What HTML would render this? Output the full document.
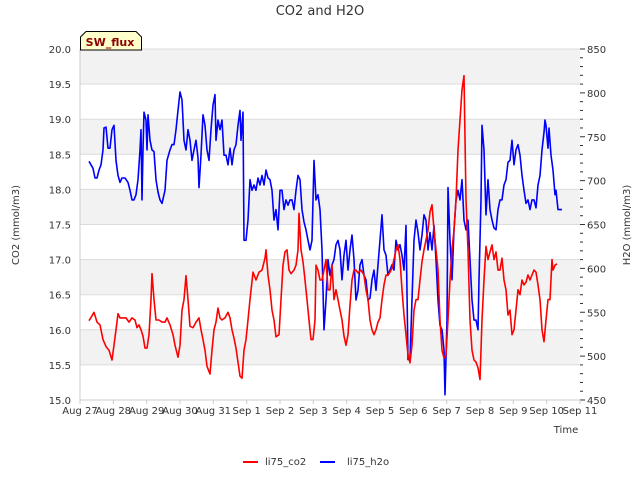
<!DOCTYPE html>
<html><head><meta charset="utf-8"><style>
body{margin:0;background:#fff;font-family:"Liberation Sans",sans-serif}
svg text{font-family:"DejaVu Sans","Liberation Sans",sans-serif}
</style></head><body>
<svg id="chart" width="640" height="480" xmlns="http://www.w3.org/2000/svg">
<text x="320" y="15" text-anchor="middle" font-size="13" fill="#333">CO2 and H2O</text>
<g id="bands"></g>
<g id="axes"></g>
<g id="series"></g>
<g>
<path d="M80.5,50 L80.5,37 L86,31.5 L136,31.5 L141.5,37 L141.5,50 Z" fill="#ffffcc" stroke="#000" stroke-width="1"/>
<text x="110" y="46" text-anchor="middle" font-size="11" font-weight="bold" fill="#8b0000">SW_flux</text>
</g>
<text x="566" y="433" text-anchor="middle" font-size="10" fill="#333">Time</text>
<text transform="translate(19,225) rotate(-90)" text-anchor="middle" font-size="10" fill="#333">CO2 (mmol/m3)</text>
<text transform="translate(630,225) rotate(-90)" text-anchor="middle" font-size="10" fill="#333">H2O (mmol/m3)</text>
<g><line x1="243" y1="462" x2="258" y2="462" stroke="#f00" stroke-width="2"/><text x="265" y="465" font-size="10" fill="#333">li75_co2</text></g>
<g><line x1="320" y1="462" x2="335" y2="462" stroke="#00f" stroke-width="2"/><text x="347" y="465" font-size="10" fill="#333">li75_h2o</text></g>
</svg>
<script>
const xTickLabels = ["Aug 27","Aug 28","Aug 29","Aug 30","Aug 31","Sep 1","Sep 2","Sep 3","Sep 4","Sep 5","Sep 6","Sep 7","Sep 8","Sep 9","Sep 10","Sep 11"];
const leftTicks = [15.0,15.5,16.0,16.5,17.0,17.5,18.0,18.5,19.0,19.5,20.0];
const rightTicks = [450,500,550,600,650,700,750,800,850];
const co2Times = [.27,.36,.42,.51,.60,.69,.78,.87,.96,1.02,1.08,1.14,1.20,1.29,1.38,1.47,1.56,1.65,1.71,1.77,1.83,1.89,1.95,2.01,2.07,2.13,2.16,2.22,2.28,2.37,2.46,2.55,2.61,2.70,2.79,2.85,2.94,3.00,3.06,3.12,3.18,3.24,3.30,3.39,3.48,3.57,3.63,3.69,3.75,3.81,3.90,3.96,4.02,4.08,4.14,4.20,4.26,4.35,4.44,4.50,4.56,4.62,4.68,4.74,4.80,4.86,4.92,4.98,5.04,5.10,5.19,5.28,5.37,5.46,5.55,5.58,5.64,5.70,5.76,5.82,5.88,5.97,6.03,6.09,6.15,6.21,6.27,6.33,6.42,6.48,6.54,6.57,6.63,6.69,6.75,6.81,6.87,6.93,6.99,7.05,7.08,7.14,7.20,7.26,7.32,7.38,7.44,7.50,7.56,7.62,7.68,7.74,7.80,7.86,7.92,7.98,8.04,8.10,8.16,8.22,8.28,8.34,8.43,8.52,8.58,8.64,8.70,8.76,8.82,8.88,8.94,9.00,9.06,9.12,9.18,9.24,9.30,9.36,9.42,9.48,9.54,9.60,9.66,9.72,9.78,9.84,9.90,9.96,10.02,10.08,10.14,10.20,10.26,10.32,10.38,10.44,10.50,10.56,10.62,10.68,10.74,10.80,10.86,10.92,10.98,11.04,11.10,11.16,11.22,11.28,11.34,11.40,11.46,11.52,11.58,11.64,11.70,11.76,11.82,11.88,11.94,12.00,12.06,12.12,12.18,12.24,12.30,12.36,12.42,12.48,12.54,12.60,12.66,12.72,12.78,12.84,12.90,12.96,13.02,13.08,13.14,13.20,13.26,13.32,13.38,13.44,13.50,13.56,13.62,13.68,13.74,13.80,13.86,13.92,13.98,14.04,14.10,14.16,14.19,14.25,14.31];
const co2Values = [16.13,16.20,16.25,16.11,16.07,15.86,15.76,15.71,15.57,15.78,16.00,16.23,16.17,16.17,16.17,16.11,16.17,16.14,16.03,16.07,16.00,15.91,15.74,15.74,15.93,16.43,16.80,16.43,16.14,16.14,16.11,16.11,16.17,16.07,15.93,15.78,15.61,15.78,16.28,16.43,16.77,16.43,16.05,16.03,16.11,16.17,16.00,15.86,15.71,15.48,15.37,15.71,16.00,16.11,16.31,16.17,16.14,16.17,16.25,16.17,16.00,15.88,15.74,15.54,15.34,15.31,15.71,15.86,16.14,16.43,16.82,16.71,16.82,16.85,17.02,17.14,16.78,16.57,16.28,16.14,15.90,15.93,16.43,16.92,17.11,17.14,16.85,16.80,16.85,16.92,17.14,17.66,17.14,16.97,16.71,16.43,16.14,15.86,15.86,16.14,16.92,16.85,16.71,16.71,16.85,17.00,16.57,16.57,16.92,16.43,16.57,16.43,16.28,16.14,15.91,15.78,15.93,16.35,16.71,16.85,16.85,16.81,16.85,16.78,16.57,16.43,16.14,16.00,15.93,16.00,16.11,16.17,16.43,16.64,16.78,16.78,16.82,16.88,17.00,17.14,17.21,17.00,16.57,16.21,15.93,15.64,15.53,15.78,16.28,16.43,16.43,16.71,16.97,17.14,17.28,17.42,17.68,17.78,17.42,17.14,16.85,16.14,15.71,15.60,15.64,16.14,16.71,17.14,17.42,17.85,18.56,18.99,19.42,19.62,17.85,17.14,16.14,15.71,15.57,15.54,15.46,15.29,16.14,16.71,17.19,17.00,17.11,17.21,17.00,17.11,16.85,16.85,17.02,16.71,16.57,16.21,16.28,15.93,16.00,16.28,16.57,16.50,16.71,16.64,16.68,16.78,16.71,16.78,16.85,16.82,16.64,16.43,16.00,15.83,16.14,16.43,16.43,17.00,16.85,16.92,16.94];
const h2oTimes = [.27,.33,.39,.45,.51,.57,.63,.69,.72,.78,.84,.90,.96,1.02,1.08,1.14,1.20,1.26,1.35,1.44,1.50,1.56,1.62,1.68,1.74,1.80,1.83,1.86,1.89,1.92,1.98,2.01,2.04,2.10,2.16,2.22,2.28,2.34,2.40,2.46,2.52,2.55,2.61,2.70,2.76,2.82,2.88,2.94,3.00,3.06,3.12,3.18,3.24,3.30,3.36,3.42,3.48,3.54,3.57,3.63,3.69,3.75,3.81,3.87,3.93,3.99,4.05,4.08,4.14,4.20,4.26,4.32,4.38,4.44,4.50,4.56,4.62,4.68,4.74,4.80,4.83,4.89,4.92,4.98,5.04,5.10,5.16,5.22,5.28,5.34,5.40,5.46,5.52,5.58,5.64,5.70,5.76,5.82,5.88,5.94,6.00,6.06,6.12,6.18,6.24,6.30,6.36,6.42,6.48,6.54,6.60,6.66,6.72,6.78,6.84,6.90,6.96,7.02,7.08,7.14,7.20,7.26,7.32,7.38,7.44,7.50,7.56,7.62,7.68,7.74,7.80,7.86,7.92,7.98,8.04,8.10,8.16,8.22,8.28,8.34,8.40,8.46,8.52,8.58,8.64,8.70,8.76,8.82,8.88,8.94,9.00,9.06,9.12,9.18,9.24,9.30,9.36,9.42,9.48,9.54,9.60,9.66,9.72,9.78,9.84,9.90,9.96,10.02,10.08,10.14,10.20,10.26,10.32,10.38,10.44,10.50,10.56,10.62,10.68,10.74,10.80,10.86,10.92,10.95,11.01,11.04,11.10,11.16,11.22,11.28,11.34,11.40,11.46,11.52,11.58,11.64,11.70,11.76,11.82,11.88,11.94,11.97,12.03,12.06,12.12,12.18,12.24,12.30,12.36,12.42,12.48,12.54,12.60,12.66,12.72,12.78,12.84,12.90,12.96,13.02,13.08,13.14,13.20,13.26,13.32,13.38,13.44,13.50,13.56,13.62,13.68,13.74,13.80,13.86,13.92,13.95,13.98,14.04,14.07,14.13,14.19,14.25,14.28,14.34,14.40,14.46];
const h2oValues = [722,718,714,703,703,712,718,735,760,761,737,737,758,763,723,706,698,703,703,698,689,678,678,684,701,735,758,678,735,778,769,735,775,746,735,733,701,687,678,674,684,689,723,735,741,741,758,780,801,792,746,735,758,746,723,735,746,726,692,729,775,763,735,723,758,786,798,746,769,758,769,729,729,718,737,718,735,741,763,780,746,778,632,632,655,701,689,695,689,703,695,706,695,712,703,701,689,655,667,644,689,689,667,678,672,678,678,667,689,706,701,667,653,644,632,621,632,723,678,684,667,621,530,564,610,592,604,610,627,632,621,587,615,632,598,621,638,610,564,575,604,610,592,587,564,566,587,598,575,604,632,661,621,615,592,598,604,598,632,621,627,615,598,649,496,496,564,632,655,641,621,638,661,655,621,641,621,649,610,564,535,530,507,456,541,692,632,587,644,678,689,678,701,655,644,655,610,564,541,541,530,587,678,763,735,661,701,667,655,646,644,667,678,678,695,701,721,723,746,718,735,741,729,706,689,674,678,667,678,678,669,695,706,735,755,769,763,737,760,729,712,684,689,667,667,667];

const NS="http://www.w3.org/2000/svg";
const X0=80,X1=580,Y0=49,Y1=400;
const xScale=d=>X0+(X1-X0)*d/15;
const yLeft=v=>Y1-(v-15)*(Y1-Y0)/5;
const yRight=v=>Y1-(v-450)*(Y1-Y0)/400;
function mk(tag,attrs,parent){const e=document.createElementNS(NS,tag);for(const k in attrs)e.setAttribute(k,attrs[k]);parent.appendChild(e);return e;}
const bands=document.getElementById('bands'),axes=document.getElementById('axes'),series=document.getElementById('series');
mk('rect',{x:X0,y:Y0,width:X1-X0,height:Y1-Y0,fill:'#fff'},bands);
for(let i=0;i<leftTicks.length-1;i++){
  if(i%2===1){const r=mk('rect',{x:X0,y:yLeft(leftTicks[i+1]),width:X1-X0,height:yLeft(leftTicks[i])-yLeft(leftTicks[i+1]),fill:'#f2f2f2'},bands);
  
  }
}
leftTicks.forEach(v=>{
  const y=yLeft(v);
  const g=mk('line',{x1:X0,x2:X1,y1:y,y2:y,stroke:'#dcdcdc','stroke-width':1},bands);
  
  
  const t=mk('text',{x:71,y:y+4,'text-anchor':'end','font-size':10,fill:'#333'},axes);
  t.textContent=v.toFixed(1);
  
  
});
rightTicks.forEach(v=>{
  const y=yRight(v);
  mk('line',{x1:X1,x2:X1+5,y1:y,y2:y,stroke:'#333'},axes);
  const t=mk('text',{x:587,y:y+4,'font-size':10,fill:'#333'},axes);
  t.textContent=v;
  
  
});
for(let v=460;v<850;v+=10){if(v%50){const y=yRight(v);mk('line',{x1:X1,x2:X1+3,y1:y,y2:y,stroke:'#333'},axes);}}
xTickLabels.forEach((s,i)=>{
  const x=xScale(i);
  mk('line',{x1:x,x2:x,y1:Y1,y2:Y1+4,stroke:'#ccc'},axes);
  const t=mk('text',{x:x,y:414,'text-anchor':'middle','font-size':10,fill:'#333'},axes);
  t.textContent=s;
  
  
});
mk('line',{x1:X0,x2:X0,y1:Y0,y2:Y1,stroke:'#ccc'},axes);
mk('line',{x1:X0,x2:X1,y1:Y1,y2:Y1,stroke:'#ccc'},axes);
function line(ts,vs,ys,color,name){
  const d=ts.map((t,i)=>(i?'L':'M')+xScale(t).toFixed(1)+','+ys(vs[i]).toFixed(1)).join('');
  const p=mk('path',{d:d,fill:'none',stroke:color,'stroke-width':1.6,'stroke-linejoin':'round'},series);
  
  
}
line(h2oTimes,h2oValues,yRight,'#0000ff','h2o-line');
line(co2Times,co2Values,yLeft,'#ff0000','co2-line');
</script>
</body></html>
